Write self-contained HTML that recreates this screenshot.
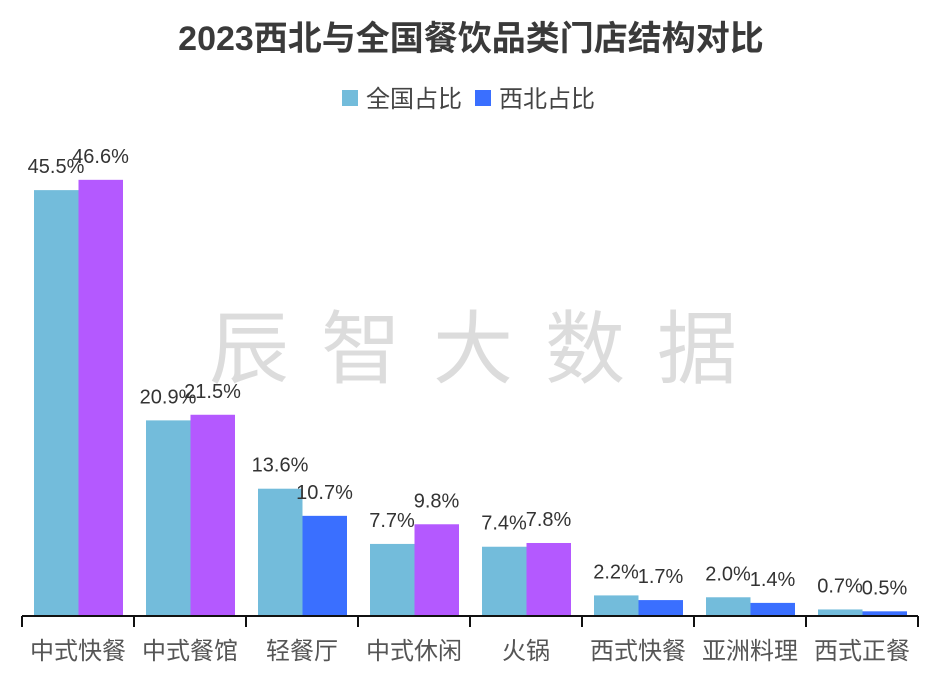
<!DOCTYPE html>
<html><head><meta charset="utf-8"><style>
body{margin:0;background:#fff;}
svg{display:block;font-family:"Liberation Sans","Noto Sans CJK SC",sans-serif;}
</style></head><body>
<svg id="c" width="942" height="683">
<text x="471" y="50" text-anchor="middle" font-size="34" font-weight="bold" fill="#3a3a3a">2023西北与全国餐饮品类门店结构对比</text>
<g>
<rect x="342" y="90" width="16" height="16" fill="#73bcdb"/>
<text x="366" y="107" font-size="24" fill="#444">全国占比</text>
<rect x="475" y="90" width="16" height="16" fill="#3a6fff"/>
<text x="499" y="107" font-size="24" fill="#444">西北占比</text>
</g>
<text x="489" y="377" text-anchor="middle" font-size="80" fill="#dcdcdc" letter-spacing="32">辰智大数据</text>
<g id="bars"></g>
<line x1="22" y1="616" x2="918" y2="616" stroke="#111" stroke-width="2"/>
<g id="axis"></g>
</svg>
<script>
const categories=["中式快餐","中式餐馆","轻餐厅","中式休闲","火锅","西式快餐","亚洲料理","西式正餐"];
const national=[45.5,20.9,13.6,7.7,7.4,2.2,2.0,0.7];
const northwest=[46.6,21.5,10.7,9.8,7.8,1.7,1.4,0.5];
const NS="http://www.w3.org/2000/svg";
const x0=22,x1=918,base=616,k=9.36;
const bw=(x1-x0)/categories.length;
const xc=i=>x0+bw*i+bw/2;
const y=v=>base-v*k;
const bars=document.getElementById('bars'),axis=document.getElementById('axis');
function mk(tag,attrs,parent){const e=document.createElementNS(NS,tag);for(const a in attrs)e.setAttribute(a,attrs[a]);parent.appendChild(e);return e;}
categories.forEach((c,i)=>{
  const cx=xc(i);
  const series=[[national[i],cx-44,"#73bcdb","national"],[northwest[i],cx+0.5,northwest[i]>national[i]?"#b459ff":"#3a6fff","northwest"]];
  series.forEach(([v,bx,col,nm])=>{
    const r=mk('rect',{x:bx,y:y(v),width:44.5,height:v*k,fill:col},bars);
    
    
    const t=mk('text',{x:bx+22,y:y(v)-17,'text-anchor':'middle','font-size':'20',fill:'#333'},bars);
    t.textContent=v.toFixed(1)+'%';
    
    
  });
  const l=mk('text',{x:cx,y:659,'text-anchor':'middle','font-size':'24',fill:'#555'},axis);
  l.textContent=c;
  
  
});
for(let i=0;i<=categories.length;i++){
  const tk=mk('line',{x1:x0+bw*i,y1:616,x2:x0+bw*i,y2:627,stroke:'#111','stroke-width':2},axis);
  
  
}
</script>
</body></html>
